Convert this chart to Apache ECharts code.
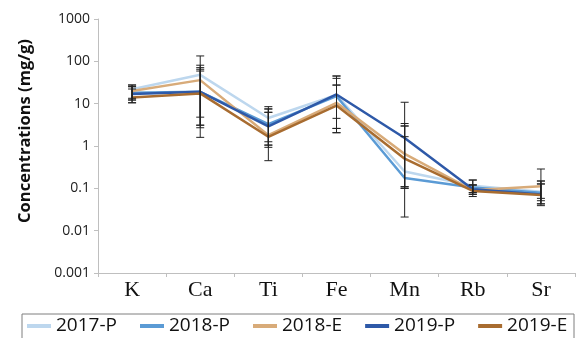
<!DOCTYPE html>
<html>
<head>
<meta charset="utf-8">
<script src="https://cdn.jsdelivr.net/npm/echarts@6/dist/echarts.min.js"></script>
<style>
  html, body { margin: 0; padding: 0; background: #fff; }
  #chart { width: 579px; height: 338px; }
</style>
</head>
<body>
<div id="chart"></div>
<script>
var categories = ['K', 'Ca', 'Ti', 'Fe', 'Mn', 'Rb', 'Sr'];
var yTickLabels = ['0.001', '0.01', '0.1', '1', '10', '100', '1000'];

// mean values per season
var p2017 = [22, 48, 4.6, 16, 0.25, 0.115, 0.083];
var p2018 = [18, 19, 3.3, 15, 0.175, 0.105, 0.079];
var e2018 = [20, 36, 1.8, 10.5, 0.65, 0.09, 0.112];
var p2019 = [17, 19, 2.9, 16.5, 1.55, 0.095, 0.072];
var e2019 = [14, 17.5, 1.65, 9, 0.5, 0.087, 0.07];

// error bar ends (low / high)
var lo2017 = [13.4, 3.1, 1.26, 4.5, 0.10, 0.079, 0.051];
var hi2017 = [27.6, 134, 8.5, 27.5, 1.66, 0.157, 0.149];
var lo2018p = [12.2, 2.7, 1.05, 2.6, 0.109, 0.072, 0.043];
var hi2018p = [25.2, 59, 7.5, 39.6, 2.97, 0.12, 0.127];
var lo2018e = [10.5, 1.6, 0.93, 2.06, 0.021, 0.064, 0.058];
var hi2018e = [27.6, 71, 6.25, 45, 3.4, 0.12, 0.286];
var lo2019p = [12.2, 4.8, 0.45, 2.6, 0.109, 0.072, 0.039];
var hi2019p = [22.2, 81, 7.5, 45, 10.8, 0.157, 0.127];
var lo2019e = [10.5, 3.1, 1.05, 2.06, 0.10, 0.079, 0.043];
var hi2019e = [25.2, 65, 6.25, 27.5, 2.97, 0.12, 0.149];

var names = ['2017-P', '2018-P', '2018-E', '2019-P', '2019-E'];
var colors = ['#bdd7ee', '#5b9bd5', '#d8ab79', '#2e59a8', '#a86c30'];
var means = [p2017, p2018, e2018, p2019, e2019];
var lows = [lo2017, lo2018p, lo2018e, lo2019p, lo2019e];
var highs = [hi2017, hi2018p, hi2018e, hi2019p, hi2019e];

var series = [];
means.forEach(function (vals, i) {
  series.push({
    name: names[i],
    type: 'line',
    data: vals,
    symbol: 'none',
    z: 2 + i,
    lineStyle: { color: colors[i], width: 2.5 },
    itemStyle: { color: colors[i] }
  });
});

means.forEach(function (vals, i) {
  series.push({
    type: 'custom',
    z: 10,
    silent: true,
    data: vals.map(function (v, k) { return [k, lows[i][k], highs[i][k]]; }),
    encode: { x: 0, y: [1, 2] },
    renderItem: function (params, api) {
      var top = api.coord([api.value(0), api.value(2)]);
      var bot = api.coord([api.value(0), api.value(1)]);
      var w = 4;
      var st = { stroke: '#222', lineWidth: 1 };
      return {
        type: 'group',
        children: [
          { type: 'line', shape: { x1: top[0], y1: top[1], x2: bot[0], y2: bot[1] }, style: st },
          { type: 'line', shape: { x1: top[0] - w, y1: top[1], x2: top[0] + w, y2: top[1] }, style: st },
          { type: 'line', shape: { x1: bot[0] - w, y1: bot[1], x2: bot[0] + w, y2: bot[1] }, style: st }
        ]
      };
    }
  });
});

var option = {
  animation: false,
  backgroundColor: '#fff',
  grid: { left: 98, right: 4, top: 19, bottom: 65 },
  xAxis: {
    type: 'category',
    data: categories,
    axisLine: { lineStyle: { color: '#bfbfbf', width: 1 } },
    axisTick: { show: true, length: 4, lineStyle: { color: '#bfbfbf' } },
    axisLabel: {
      margin: 6,
      color: '#111',
      fontFamily: 'Liberation Serif',
      fontSize: 22
    },
    splitLine: { show: false }
  },
  yAxis: {
    type: 'log',
    logBase: 10,
    min: 0.001,
    max: 1000,
    splitNumber: 6,
    axisLine: { show: true, lineStyle: { color: '#bfbfbf', width: 1 } },
    axisTick: { show: true, length: 4, lineStyle: { color: '#bfbfbf' } },
    splitLine: { show: false },
    axisLabel: {
      margin: 8,
      color: '#222',
      fontFamily: 'Open Sans',
      fontSize: 14,
      formatter: function (v) {
        var k = Math.round(Math.log10(v)) + 3;
        return yTickLabels[k] || '';
      }
    }
  },
  legend: {
    data: names,
    left: 22,
    top: 316,
    padding: [0, 0, 0, 5],
    icon: 'rect',
    itemWidth: 24,
    itemHeight: 4,
    itemGap: 23,
    textStyle: { fontFamily: 'Open Sans', fontSize: 19, color: '#111', padding: [0, 0, 0, 0], lineHeight: 20 }
  },
  graphic: [
    {
      type: 'rect',
      shape: { x: 22, y: 314, width: 552, height: 40 },
      style: { fill: 'none', stroke: '#7f7f7f', lineWidth: 1 },
      silent: true
    },
    {
      type: 'text',
      x: 25,
      y: 131,
      rotation: Math.PI / 2,
      style: {
        text: 'Concentrations (mg/g)',
        fontFamily: 'Open Sans',
        fontWeight: 'bold',
        fontSize: 16.5,
        fill: '#111',
        textAlign: 'center',
        textVerticalAlign: 'middle'
      }
    }
  ],
  series: series
};

var chart = echarts.init(document.getElementById('chart'));
chart.setOption(option);
</script>
</body>
</html>
